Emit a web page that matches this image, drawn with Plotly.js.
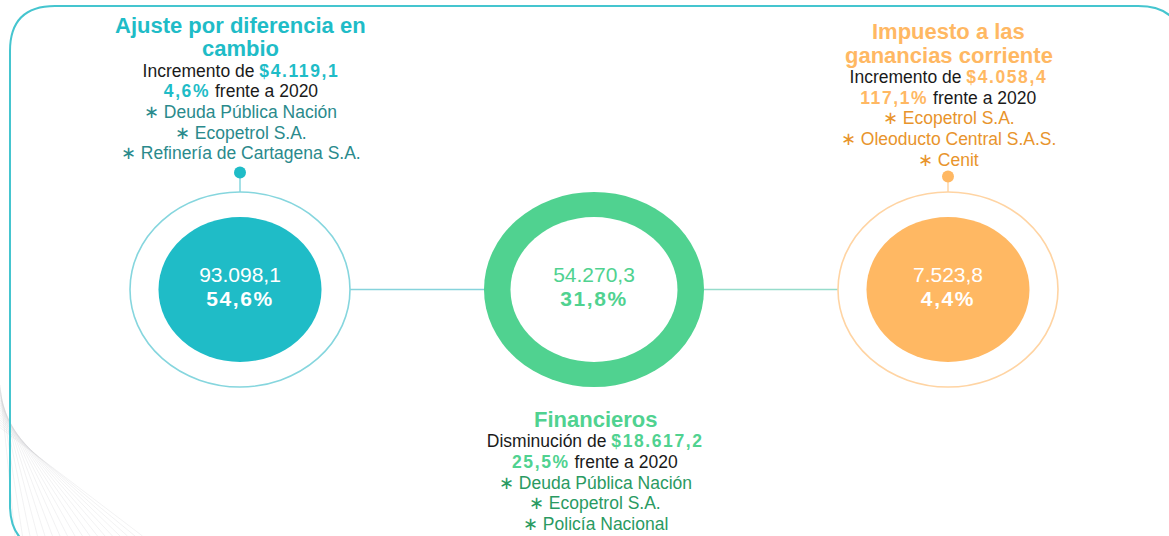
<!DOCTYPE html>
<html>
<head>
<meta charset="utf-8">
<script src="https://cdn.plot.ly/plotly-3.0.1.min.js"></script>
<style>
html,body{margin:0;padding:0;background:#fff;}
#chart{width:1169px;height:536px;}
#chart tspan[style*="bold"]{letter-spacing:1.6px;}
</style>
</head>
<body>
<div id="chart"></div>
<script>
// ---------- DATA ----------
const categorias = ['Ajuste por diferencia en cambio', 'Financieros', 'Impuesto a las ganancias corriente'];
const tituloLineas = [['Ajuste por diferencia en', 'cambio'], ['Financieros'], ['Impuesto a las', 'ganancias corriente']];
const valores = [93098.1, 54270.3, 7523.8];
const participacion = [54.6, 31.8, 4.4];
const variacion = [4119.1, -18617.2, 4058.4];
const variacionPct = [4.6, 25.5, 117.1];
const anioComparacion = 2020;
const entidades = [
  ['Deuda Pública Nación', 'Ecopetrol S.A.', 'Refinería de Cartagena S.A.'],
  ['Deuda Pública Nación', 'Ecopetrol S.A.', 'Policía Nacional'],
  ['Ecopetrol S.A.', 'Oleoducto Central S.A.S.', 'Cenit']
];

// ---------- STYLE ----------
const acento = ['#1fbcc7', '#50d290', '#ffb863'];
const acentoTexto = ['#2a8a8c', '#2a9a62', '#e8942c'];
const anillo = ['#86d6de', null, '#ffd4a3'];
const tipo = ['lleno', 'dona', 'lleno'];
const font = 'Liberation Sans, Arial, sans-serif';

const W = 1169, H = 536;
const X0 = 240, DX = 354;              // pixel position of category 0 and spacing
const px = v => v / DX;                 // pixel width -> x units
const pxX = p => (p - X0) / DX;         // pixel x -> x units
const CY = 289.5, RXo = 110, RYo = 97.5, RXi = 81.5, RYi = 72.5;

const fmt = (v, d) => {
  const s = Math.abs(v).toFixed(d);
  const [i, f] = s.split('.');
  return i.replace(/\B(?=(\d{3})+(?!\d))/g, '.') + ',' + f;
};

const idx = categorias.map((_, i) => i);
const shapes = [];
const annotations = [];

// frame
(function () {
  const l = 10, t = 6, r = 1183, b = 550, R = 45;
  const P = (x, y) => pxX(x) + ',' + y;
  const path = 'M' + P(l + R, t) + ' L' + P(r - R, t) +
    ' Q' + P(r, t) + ' ' + P(r, t + R) + ' L' + P(r, b - R) +
    ' Q' + P(r, b) + ' ' + P(r - R, b) + ' L' + P(l + R, b) +
    ' Q' + P(l, b) + ' ' + P(l, b - R) + ' L' + P(l, t + R) +
    ' Q' + P(l, t) + ' ' + P(l + R, t) + ' Z';
  for (let k = 0; k < 18; k++) {
    shapes.push({type: 'line', xref: 'x', yref: 'y', layer: 'below',
      x0: pxX(0), y0: 385 + k * 2.5, x1: pxX(15 + k * 7.5), y1: 536,
      line: {color: 'rgba(200,200,205,0.3)', width: 0.8}});
  }
  shapes.push({type: 'path', xref: 'x', yref: 'y', path: path, line: {color: '#45c5cf', width: 2}, fillcolor: 'rgba(0,0,0,0)', layer: 'below'});
})();

// connecting lines
const conector = ['#86d3dc', '#96dccb'];
for (let i = 0; i < idx.length - 1; i++) {
  shapes.push({type: 'line', xref: 'x', yref: 'y', layer: 'below', x0: idx[i] + px(RXo), x1: idx[i + 1] - px(RXo), y0: CY, y1: CY,
    line: {color: conector[i], width: 1.5}});
}

idx.forEach(i => {
  if (tipo[i] === 'lleno') {
    shapes.push({type: 'circle', xref: 'x', yref: 'y', layer: 'below', x0: i - px(RXo), x1: i + px(RXo), y0: CY - RYo, y1: CY + RYo,
      line: {color: anillo[i], width: 1.6}, fillcolor: '#ffffff'});
    shapes.push({type: 'circle', xref: 'x', yref: 'y', layer: 'below', x0: i - px(RXi), x1: i + px(RXi), y0: CY - RYi, y1: CY + RYi,
      line: {color: acento[i], width: 0}, fillcolor: acento[i]});
  } else {
    shapes.push({type: 'circle', xref: 'x', yref: 'y', layer: 'below', x0: i - px(RXo), x1: i + px(RXo), y0: CY - RYo, y1: CY + RYo,
      line: {color: acento[i], width: 0}, fillcolor: acento[i]});
    shapes.push({type: 'circle', xref: 'x', yref: 'y', layer: 'below', x0: i - px(RXi + 2), x1: i + px(RXi + 2), y0: CY - RYi, y1: CY + RYi,
      line: {color: '#ffffff', width: 0}, fillcolor: '#ffffff'});
  }
});

// text blocks
const bloqueY = [25, 419.3, 31.5];
const dotY = [172.5, null, 176.5];
idx.forEach(i => {
  const xc = i + px(i === 1 ? 1 : 0.5);
  let y = bloqueY[i];
  tituloLineas[i].forEach((ln, k) => {
    annotations.push({x: xc, y: y + k * 23.5, xref: 'x', yref: 'y', text: ln, showarrow: false,
      font: {family: font, size: 22, weight: 'bold', color: acento[i]}, xanchor: 'center', yanchor: 'middle'});
  });
  y = y + (tituloLineas[i].length - 1) * 23.5 + 22;
  const dir = variacion[i] >= 0 ? 'Incremento' : 'Disminución';
  const lineas = [
    '<span style="color:#1a1a1a">' + dir + ' de </span><b>$' + fmt(variacion[i], 1) + '</b>',
    '<b>' + fmt(variacionPct[i], 1) + '%</b><span style="color:#1a1a1a"> frente a ' + anioComparacion + '</span>'
  ];
  lineas.forEach((ln, k) => {
    annotations.push({x: xc, y: y + k * 20.7, xref: 'x', yref: 'y', text: ln, showarrow: false,
      font: {family: font, size: 17.5, color: acento[i]}, xanchor: 'center', yanchor: 'middle'});
  });
  entidades[i].forEach((e, k) => {
    annotations.push({x: xc, y: y + (k + 2) * 20.7, xref: 'x', yref: 'y', text: '∗ ' + e, showarrow: false,
      font: {family: font, size: 17.5, color: acentoTexto[i]}, xanchor: 'center', yanchor: 'middle'});
  });
  if (dotY[i] !== null) {
    shapes.push({type: 'line', xref: 'x', yref: 'y', layer: 'below', x0: i, x1: i, y0: dotY[i], y1: CY - RYo,
      line: {color: anillo[i], width: 1.5}});
  }
});

const colorValor = idx.map(i => tipo[i] === 'lleno' ? '#ffffff' : acento[i]);
const conPunto = idx.filter(i => dotY[i] !== null);
const traces = [
  {type: 'scatter', mode: 'text', x: idx, y: idx.map(() => CY - 13), text: valores.map(v => fmt(v, 1)),
    textfont: {family: font, size: 21, color: colorValor}, textposition: 'middle center', hoverinfo: 'skip'},
  {type: 'scatter', mode: 'text', x: idx, y: idx.map(() => CY + 11), text: participacion.map(p => '<b>' + fmt(p, 1) + '%</b>'),
    textfont: {family: font, size: 21, color: colorValor}, textposition: 'middle center', hoverinfo: 'skip'},
  {type: 'scatter', mode: 'markers', x: conPunto, y: conPunto.map(i => dotY[i]),
    marker: {size: 12, color: conPunto.map(i => acento[i])}, hoverinfo: 'skip'}
];

const layout = {
  width: W, height: H, margin: {l: 0, r: 0, t: 0, b: 0},
  paper_bgcolor: '#ffffff', plot_bgcolor: '#ffffff', showlegend: false,
  xaxis: {range: [pxX(0), pxX(W)], visible: false, fixedrange: true},
  yaxis: {range: [H, 0], visible: false, fixedrange: true},
  shapes: shapes, annotations: annotations
};
Plotly.newPlot('chart', traces, layout, {staticPlot: true, displayModeBar: false});
</script>
</body>
</html>
